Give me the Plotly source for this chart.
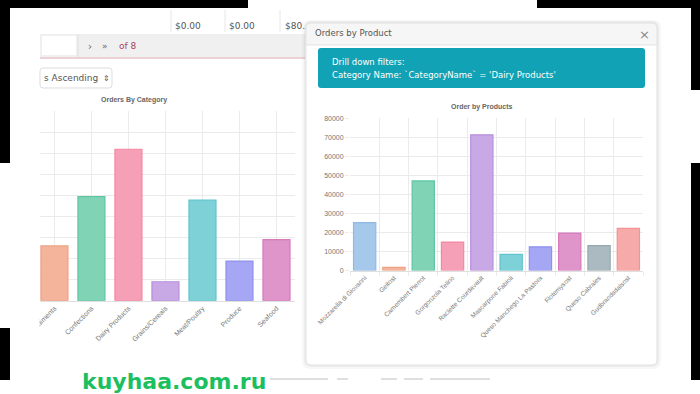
import plotly.graph_objects as go

# ---------------- data ----------------
cat_names = ["Condiments", "Confections", "Dairy Products", "Grains/Cereals",
             "Meat/Poultry", "Produce", "Seafood"]
cat_values = [26000, 49400, 71900, 9000, 47700, 18800, 29000]

prod_names = ["Mozzarella di Giovanni", "Geitost", "Camembert Pierrot", "Gorgonzola Telino",
              "Raclette Courdavault", "Mascarpone Fabioli", "Queso Manchego La Pastora",
              "Flotemysost", "Queso Cabrales", "Gudbrandsdalsost"]
prod_values = [25200, 1700, 47100, 15000, 71300, 8500, 12500, 19700, 13100, 22200]

prod_ticks = [0, 10000, 20000, 30000, 40000, 50000, 60000, 70000, 80000]

# ---------------- styling ----------------
W, H = 700, 394
def X(px): return px / W
def Y(py): return 1 - py / H

fills = ["#a6c8ea", "#f3b49b", "#80d3b5", "#f6a0b7", "#c8a8e5",
         "#7fd1d8", "#a5a7f4", "#df95c9", "#abbac1", "#f7aaaa"]
borders = ["#8fb8e3", "#eea184", "#5fc6a3", "#f387a3", "#b68fdd",
           "#5fc4cd", "#8f91f0", "#d67abc", "#95a8b0", "#f39393"]

cat_fill = fills[1:1 + len(cat_names)]
cat_border = borders[1:1 + len(cat_names)]

fig = go.Figure()

fig.add_trace(go.Bar(x=cat_names, y=cat_values, xaxis="x", yaxis="y",
                     marker=dict(color=cat_fill, line=dict(color=cat_border, width=1.2)),
                     width=0.73, showlegend=False, hoverinfo="x+y"))
fig.add_trace(go.Bar(x=prod_names, y=prod_values, xaxis="x2", yaxis="y2",
                     marker=dict(color=fills, line=dict(color=borders, width=1.2)),
                     width=0.76, showlegend=False, hoverinfo="x+y"))

grid = "#ebebeb"
tickfont = dict(family="Liberation Sans, Arial", size=7, color="#777")

fig.update_layout(
    template="none",
    width=W, height=H, margin=dict(l=0, r=0, t=0, b=0, pad=0, autoexpand=False),
    paper_bgcolor="white", plot_bgcolor="rgba(0,0,0,0)",
    font=dict(family="Liberation Sans, Arial", color="#666"),
    xaxis=dict(domain=[X(40), X(295)], range=[-0.39, 6.5], type="category",
               showgrid=True, gridcolor=grid, tickangle=-45, tickfont=tickfont,
               showline=True, linecolor="#e0e0e0", ticks="", fixedrange=True,
               automargin=False),
    yaxis=dict(domain=[Y(300.7), Y(111.1)], range=[0, 90000], dtick=10000,
               showgrid=True, gridcolor=grid, showticklabels=False, zeroline=False,
               showline=False, ticks="", fixedrange=True, automargin=False),
    xaxis2=dict(domain=[X(350), X(643)], range=[-0.5, 9.5], type="category",
                tickson="boundaries", showgrid=True, gridcolor=grid, tickangle=-45,
                tickfont=dict(family="Liberation Sans, Arial", size=6.5, color="#777"),
                showline=True, linecolor="#e0e0e0", ticks="outside", ticklen=4,
                tickcolor=grid, anchor="y2", fixedrange=True, automargin=False),
    yaxis2=dict(domain=[Y(270.6), Y(118.3)], range=[0, 80000], tickvals=prod_ticks,
                tickformat="d", showgrid=True, gridcolor=grid, tickfont=tickfont,
                zeroline=False, showline=False, ticks="outside", ticklen=4,
                tickcolor=grid, anchor="x2", fixedrange=True, automargin=False),
)

shapes = []
def rect(x0, y0, x1, y1, fill, line=None, lw=0, layer="below"):
    shapes.append(dict(type="rect", xref="paper", yref="paper",
                       x0=X(x0), x1=X(x1), y0=Y(y1), y1=Y(y0),
                       fillcolor=fill, line=dict(color=line or fill, width=lw), layer=layer))

def rrect(x0, y0, x1, y1, r, fill, line=None, lw=0, layer="below"):
    pts = [("M", x0 + r, y0), ("L", x1 - r, y0), ("Q", x1, y0, x1, y0 + r),
           ("L", x1, y1 - r), ("Q", x1, y1, x1 - r, y1), ("L", x0 + r, y1),
           ("Q", x0, y1, x0, y1 - r), ("L", x0, y0 + r), ("Q", x0, y0, x0 + r, y0)]
    s = ""
    for p in pts:
        if p[0] == "Q":
            s += f"Q{X(p[1]):.5f},{Y(p[2]):.5f} {X(p[3]):.5f},{Y(p[4]):.5f} "
        else:
            s += f"{p[0]}{X(p[1]):.5f},{Y(p[2]):.5f} "
    s += "Z"
    shapes.append(dict(type="path", xref="paper", yref="paper", path=s,
                       fillcolor=fill, line=dict(color=line or fill, width=lw), layer=layer))

def hline(x0, x1, y, color, lw=1, layer="below"):
    shapes.append(dict(type="line", xref="paper", yref="paper", x0=X(x0), x1=X(x1),
                       y0=Y(y), y1=Y(y), line=dict(color=color, width=lw), layer=layer))

def vline(x, y0, y1, color, lw=1, layer="below"):
    shapes.append(dict(type="line", xref="paper", yref="paper", x0=X(x), x1=X(x),
                       y0=Y(y0), y1=Y(y1), line=dict(color=color, width=lw), layer=layer))

# background page: table cells row
for xv in [171, 225, 280]:
    vline(xv, 10, 32, "#e6e6e6")
# pagination bar
rect(40, 34, 305, 57, "#f0f0f0")
rect(42, 36, 76, 55, "white")
vline(78, 34, 57, "#e0e0e0")
hline(40, 305, 58, "#d9a3ad", 1.2)
# dropdown
rrect(40, 68, 112, 88, 3, "white", "#dddddd", 1)

# modal shadow + body
rrect(302, 20, 661, 369, 8, "rgba(0,0,0,0.03)")
rrect(304, 21, 659, 367, 7, "rgba(0,0,0,0.04)")
rrect(306, 23, 657, 365, 5, "white", "#e2e2e2", 1)
# header
shapes.append(dict(type="path", xref="paper", yref="paper",
                   path=(f"M{X(306):.5f},{Y(45):.5f} L{X(306):.5f},{Y(28):.5f} "
                         f"Q{X(306):.5f},{Y(23):.5f} {X(311):.5f},{Y(23):.5f} "
                         f"L{X(652):.5f},{Y(23):.5f} Q{X(657):.5f},{Y(23):.5f} {X(657):.5f},{Y(28):.5f} "
                         f"L{X(657):.5f},{Y(45):.5f} Z"),
                   fillcolor="#f6f6f6", line=dict(color="#e2e2e2", width=1), layer="below"))
# teal alert
rrect(318, 48, 645, 88, 3, "#12a2b5")

# white cover to clip left chart labels
rect(10, 300, 39.5, 345, "white", layer="above")

# black frame pieces
for (a, b, c, d) in [(0, 0, 248, 8), (0, 0, 10, 163), (0, 328, 10, 380),
                     (537, 0, 700, 8), (691, 0, 700, 90), (691, 163, 700, 380)]:
    rect(a, b, c, d, "black", layer="above")

# watermark dashes
for (a, b) in [(270, 328), (337, 348), (381, 397), (404, 423), (430, 490)]:
    hline(a, b, 379, "#d5d5d5", 1.5, layer="above")

fig.update_layout(shapes=shapes)

ann = []
def text(x, y, s, size, color, family="DejaVu Sans", xanchor="left", bold=False):
    ann.append(dict(xref="paper", yref="paper", x=X(x), y=Y(y), text=(f"<b>{s}</b>" if bold else s),
                    showarrow=False, xanchor=xanchor, yanchor="middle",
                    font=dict(family=family, size=size, color=color)))

text(173, 26, "$0.00", 9, "#555")
text(227, 26, "$0.00", 9, "#555")
text(283, 26, "$80.", 9, "#555")
text(86, 46, "›", 10, "#666")
text(100, 46, "»", 9, "#666")
text(117, 46, "of 8", 9, "#a94466")
text(42, 78, "s Ascending", 9, "#555")
text(101, 78, "⇕", 8, "#555")
text(134, 100, "Orders By Category", 7, "#666", family="Liberation Sans, Arial",
     xanchor="center", bold=True)

text(313, 33, "Orders by Product", 8.5, "#555")
text(644, 35, "×", 13, "#888", xanchor="center")
text(330, 62, "Drill down filters:", 8.5, "white")
text(330, 75, "Category Name: `CategoryName` = 'Dairy Products'", 8.5, "white")
text(482, 107, "Order by Products", 7, "#666", family="Liberation Sans, Arial",
     xanchor="center", bold=True)

text(80, 381, "kuyhaa.com.ru", 22, "#1cbf5f", family="DejaVu Sans", bold=True)

fig.update_layout(annotations=ann)

fig.write_html("out.html",
               config={"displayModeBar": False, "staticPlot": False},
               post_script="document.body.style.margin='0';"
                           "document.body.style.overflow='hidden';")
